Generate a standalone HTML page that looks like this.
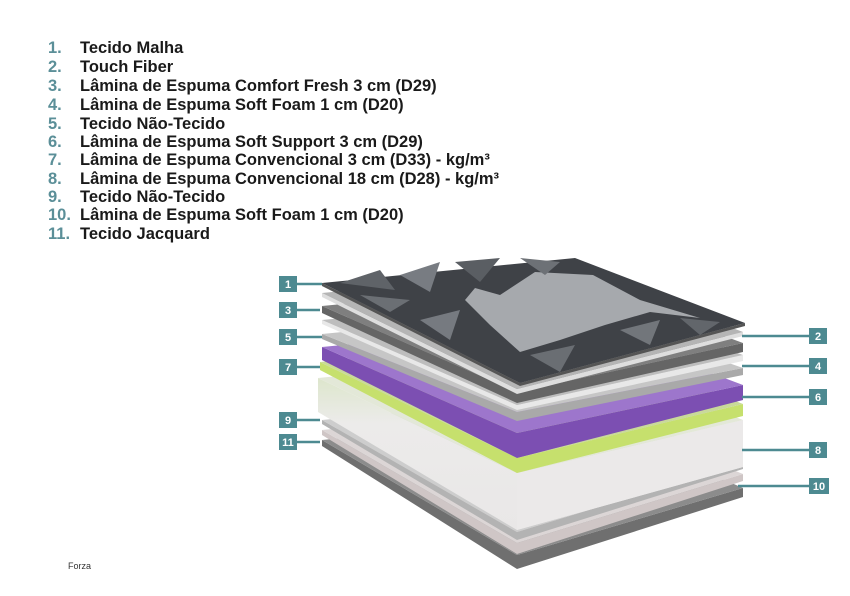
<!DOCTYPE html>
<html><head><meta charset="utf-8"><style>
body{margin:0;background:#fff;width:850px;height:596px;overflow:hidden;position:relative;font-family:"Liberation Sans",sans-serif}
.l{position:absolute;left:0;font-size:16.5px;font-weight:bold;color:#1a1a1a;white-space:nowrap;line-height:19px}
.l b{display:inline-block;width:32px;text-align:left;padding-left:48px;color:#5b8f98;font-weight:bold}
.f{position:absolute;left:68px;top:561px;font-size:9px;color:#333}
</style></head><body>
<div class="l" style="top:39px"><b>1.</b>Tecido Malha</div>
<div class="l" style="top:58px"><b>2.</b>Touch Fiber</div>
<div class="l" style="top:77px"><b>3.</b>Lâmina de Espuma Comfort Fresh 3 cm (D29)</div>
<div class="l" style="top:96px"><b>4.</b>Lâmina de Espuma Soft Foam 1 cm (D20)</div>
<div class="l" style="top:115px"><b>5.</b>Tecido Não-Tecido</div>
<div class="l" style="top:133px"><b>6.</b>Lâmina de Espuma Soft Support 3 cm (D29)</div>
<div class="l" style="top:151px"><b>7.</b>Lâmina de Espuma Convencional 3 cm (D33) - kg/m³</div>
<div class="l" style="top:170px"><b>8.</b>Lâmina de Espuma Convencional 18 cm (D28) - kg/m³</div>
<div class="l" style="top:188px"><b>9.</b>Tecido Não-Tecido</div>
<div class="l" style="top:206px"><b>10.</b>Lâmina de Espuma Soft Foam 1 cm (D20)</div>
<div class="l" style="top:225px"><b>11.</b>Tecido Jacquard</div>
<div class="f">Forza</div>
<svg width="850" height="596" style="position:absolute;left:0;top:0">
<defs>
<linearGradient id="g8" x1="0" y1="0" x2="0" y2="1"><stop offset="0" stop-color="#dde6cc"/><stop offset="0.3" stop-color="#ecebea"/><stop offset="1" stop-color="#e9e7e7"/></linearGradient>
</defs>
<!-- 11 -->
<polygon points="322,440 517,555 743,488 743,497 517,569 322,446" fill="#6f6f6f"/>
<polygon points="322,440 575,415 743,488 517,555" fill="#8c8c8c"/>
<!-- 10 -->
<polygon points="322,430 517,543 743,474 743,481 517,554 322,435" fill="#cfc6c6"/>
<polygon points="322,430 575,405 743,474 517,543" fill="#dcd6d6"/>
<!-- 9 -->
<polygon points="322,420 517,532 743,463 743,469 517,540 322,424" fill="#b3b3b3"/>
<polygon points="322,420 575,395 743,463 517,532" fill="#cdcdcd"/>
<!-- 8 -->
<polygon points="318,378 517,473 743,420 743,467 517,530 318,412" fill="url(#g8)"/>
<polygon points="517,473 743,420 743,467 517,530" fill="#ebe9e9"/>
<polygon points="318,378 575,353 743,420 517,473" fill="#e3e8d8"/>
<!-- 7 -->
<polygon points="320,362 517,458 743,404 743,416 517,473 320,370" fill="#c6e06d"/>
<polygon points="320,362 575,337 743,404 517,458" fill="#c9d99a"/>
<!-- 6 -->
<polygon points="322,347 517,433 743,385 743,400 517,458 322,360" fill="#7c4fb2"/>
<polygon points="322,347 575,322 743,385 517,433" fill="#9d76cc"/>
<!-- 5 -->
<polygon points="322,334 517,412 743,368 743,375 517,421 322,339" fill="#a9a9a9"/>
<polygon points="322,334 575,309 743,368 517,412" fill="#c6c6c6"/>
<!-- 4 -->
<polygon points="322,320 517,405 743,355 743,361 517,410 322,324" fill="#e8e8e8"/>
<polygon points="322,320 575,295 743,355 517,405" fill="#bdbdbd"/>
<!-- 3 -->
<polygon points="322,306 517,392 743,343 743,352 517,403 322,313" fill="#656565"/>
<polygon points="322,306 575,281 743,343 517,392" fill="#7f7f7f"/>
<!-- 2 -->
<polygon points="322,293 517,389 743,332 743,336 517,394 322,297" fill="#dedede"/>
<polygon points="322,293 575,268 743,332 517,389" fill="#b5b5b5"/>
<!-- 1 -->
<polygon points="322,283 520,383 745,323 745,326 520,386 322,286" fill="#555"/>
<polygon points="322,283 575,258 745,323 520,383" fill="#3f4247"/>
<polygon points="465,300 475,288 500,295 535,272 593,275 640,300 700,318 650,312 605,325 560,340 520,352 490,325" fill="#a6a9ad"/>
<polygon points="340,283 380,270 395,290" fill="#5f6368"/><polygon points="400,275 440,262 430,292" fill="#787c82"/>
<polygon points="455,262 500,258 480,282" fill="#5a5e63"/><polygon points="360,295 410,300 390,312" fill="#6b6f74"/>
<polygon points="420,320 460,310 450,340" fill="#767a80"/><polygon points="530,355 575,345 560,372" fill="#6a6e73"/>
<polygon points="620,330 660,320 650,345" fill="#72767b"/><polygon points="680,318 720,322 700,335" fill="#62666b"/>
<polygon points="520,258 560,262 545,275" fill="#6d7176"/>
<!-- connectors -->
<g stroke="#4d8a91" stroke-width="2.5">
<line x1="297" y1="284" x2="322" y2="284"/><line x1="297" y1="310" x2="320" y2="310"/><line x1="297" y1="337" x2="322" y2="337"/>
<line x1="297" y1="367" x2="320" y2="367"/><line x1="297" y1="420" x2="320" y2="420"/><line x1="297" y1="442" x2="320" y2="442"/>
<line x1="742" y1="336" x2="809" y2="336"/><line x1="742" y1="366" x2="809" y2="366"/><line x1="742" y1="397" x2="809" y2="397"/>
<line x1="742" y1="450" x2="809" y2="450"/><line x1="738" y1="486" x2="809" y2="486"/>
</g>
<g fill="#4d8a91">
<rect x="279" y="276" width="18" height="16"/><rect x="279" y="302" width="18" height="16"/><rect x="279" y="329" width="18" height="16"/>
<rect x="279" y="359" width="18" height="16"/><rect x="279" y="412" width="18" height="16"/><rect x="279" y="434" width="18" height="16"/>
<rect x="809" y="328" width="18" height="16"/><rect x="809" y="358" width="18" height="16"/><rect x="809" y="389" width="18" height="16"/>
<rect x="809" y="442" width="18" height="16"/><rect x="809" y="478" width="20" height="16"/>
</g>
<g fill="#fff" font-family="Liberation Sans,sans-serif" font-weight="bold" font-size="11" text-anchor="middle">
<text x="288" y="288">1</text><text x="288" y="314">3</text><text x="288" y="341">5</text><text x="288" y="371">7</text><text x="288" y="424">9</text><text x="288" y="446">11</text>
<text x="818" y="340">2</text><text x="818" y="370">4</text><text x="818" y="401">6</text><text x="818" y="454">8</text><text x="819" y="490">10</text>
</g>
</svg>
</body></html>
